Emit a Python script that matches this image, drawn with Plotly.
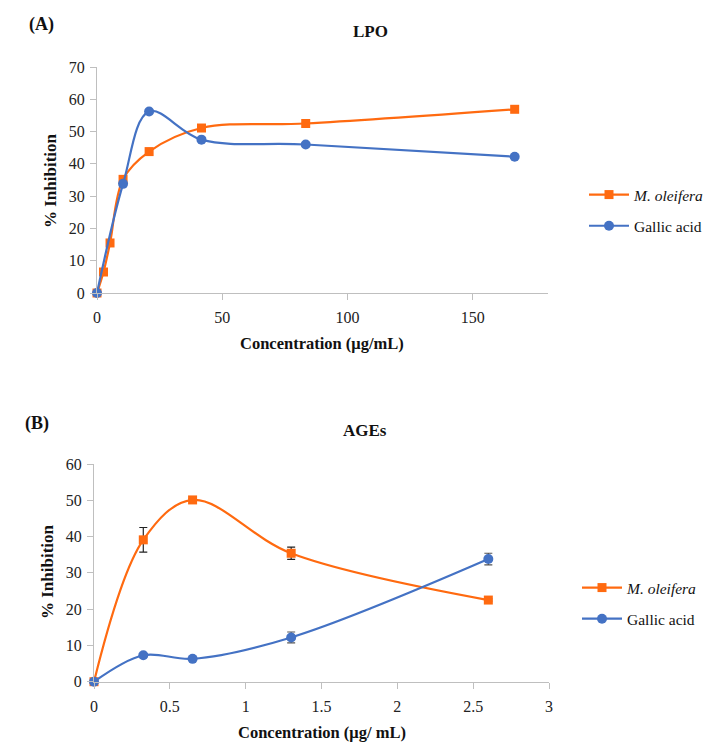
import plotly.graph_objects as go

# Panel A: LPO
lpo_x_mo = [0, 2.6, 5.2, 10.4, 20.8, 41.7, 83.3, 166.7]
lpo_y_mo = [0, 6.5, 15.5, 35.2, 43.8, 51.1, 52.5, 56.9]
lpo_x_ga = [0, 10.4, 20.8, 41.7, 83.3, 166.7]
lpo_y_ga = [0, 33.8, 56.2, 47.5, 46.0, 42.2]

# Panel B: AGEs
age_x = [0, 0.325, 0.65, 1.3, 2.6]
age_y_mo = [0, 39.1, 50.1, 35.4, 22.5]
age_e_mo = [0, 3.4, 0.3, 1.7, 0.3]
age_y_ga = [0, 7.3, 6.3, 12.2, 33.8]
age_e_ga = [0, 0.3, 0.3, 1.5, 1.6]

series_names = ["<i>M. oleifera</i>", "Gallic acid"]
x_titles = ["Concentration (μg/mL)", "Concentration (μg/ mL)"]
y_title = "% Inhibition"
panel_titles = ["LPO", "AGEs"]
panel_labels = ["(A)", "(B)"]

ORANGE = "#FF6A10"
BLUE = "#4472C4"
FONT = "Liberation Serif"
W, H = 714, 747

fig = go.Figure()

def line(color):
    return dict(color=color, width=2.2, shape="spline", smoothing=1.0)

fig.add_trace(go.Scatter(x=lpo_x_mo, y=lpo_y_mo, mode="lines+markers", name=series_names[0],
                         line=line(ORANGE), marker=dict(symbol="square", size=9, color=ORANGE),
                         xaxis="x", yaxis="y", legend="legend", legendgroup="a1", cliponaxis=False))
fig.add_trace(go.Scatter(x=lpo_x_ga, y=lpo_y_ga, mode="lines+markers", name=series_names[1],
                         line=line(BLUE), marker=dict(symbol="circle", size=10, color=BLUE),
                         xaxis="x", yaxis="y", legend="legend", legendgroup="a2", cliponaxis=False))

fig.add_trace(go.Scatter(x=age_x, y=age_y_mo, mode="lines+markers", name=series_names[0],
                         line=line(ORANGE), marker=dict(symbol="square", size=9, color=ORANGE),
                         error_y=dict(type="data", array=age_e_mo, color="#222222", thickness=1.2, width=4),
                         xaxis="x2", yaxis="y2", legend="legend2", legendgroup="b1", cliponaxis=False))
fig.add_trace(go.Scatter(x=age_x, y=age_y_ga, mode="lines+markers", name=series_names[1],
                         line=line(BLUE), marker=dict(symbol="circle", size=10, color=BLUE),
                         error_y=dict(type="data", array=age_e_ga, color="#555555", thickness=1.2, width=4),
                         xaxis="x2", yaxis="y2", legend="legend2", legendgroup="b2", cliponaxis=False))

axis_common = dict(showgrid=False, zeroline=False, showline=True, linecolor="#BFBFBF", linewidth=1,
                   ticks="outside", ticklen=6, tickcolor="#BFBFBF", automargin=False,
                   tickfont=dict(family=FONT, size=16, color="#222222"))
leg_font = dict(family=FONT, size=15.5, color="#111111")

fig.update_layout(
    width=W, height=H, margin=dict(l=0, r=0, t=0, b=0),
    paper_bgcolor="white", plot_bgcolor="white",
    font=dict(family=FONT, color="#111111"),
    xaxis=dict(domain=[97 / W, 548 / W], range=[0, 180], tickvals=[0, 50, 100, 150],
               anchor="y", ticklabelstandoff=4, **axis_common),
    yaxis=dict(domain=[1 - 293 / H, 1 - 67 / H], range=[0, 70], dtick=10, anchor="x",
               ticklabelstandoff=2, **axis_common),
    xaxis2=dict(domain=[94 / W, 549 / W], range=[0, 3], tickvals=[0, 0.5, 1, 1.5, 2, 2.5, 3],
                ticktext=["0", "0.5", "1", "1.5", "2", "2.5", "3"],
                anchor="y2", ticklabelstandoff=4, **axis_common),
    yaxis2=dict(domain=[1 - 681.7 / H, 1 - 464 / H], range=[0, 60], dtick=10, anchor="x2",
                ticklabelstandoff=2, **axis_common),
    legend=dict(x=584 / W, y=1 - 178 / H, xanchor="left", yanchor="top", bgcolor="rgba(0,0,0,0)",
                font=leg_font, traceorder="grouped", tracegroupgap=8, itemwidth=40),
    legend2=dict(x=577 / W, y=1 - 571 / H, xanchor="left", yanchor="top", bgcolor="rgba(0,0,0,0)",
                 font=leg_font, traceorder="grouped", tracegroupgap=8, itemwidth=40),
    showlegend=True,
)

def ann(text, x, y, size, xanchor="center", angle=0):
    fig.add_annotation(xref="paper", yref="paper", showarrow=False, x=x / W, y=1 - y / H,
                       xanchor=xanchor, yanchor="middle", textangle=angle,
                       text=text, font=dict(family=FONT, size=size, color="#111111"))

ann(f"<b>{panel_labels[0]}</b>", 27, 25, 18, xanchor="left")
ann(f"<b>{panel_titles[0]}</b>", 370, 32, 17)
ann(f"<b>{panel_labels[1]}</b>", 23, 423, 18, xanchor="left")
ann(f"<b>{panel_titles[1]}</b>", 365, 430, 17)
ann(f"<b>{x_titles[0]}</b>", 322, 344, 16.5)
ann(f"<b>{x_titles[1]}</b>", 322, 732, 16.5)
ann(f"<b>{y_title}</b>", 50, 181, 17, angle=-90)
ann(f"<b>{y_title}</b>", 47, 572, 17, angle=-90)

fig.write_html("out.html", config={"displayModeBar": False},
               post_script="document.body.style.margin='0';document.body.style.overflow='hidden';")
